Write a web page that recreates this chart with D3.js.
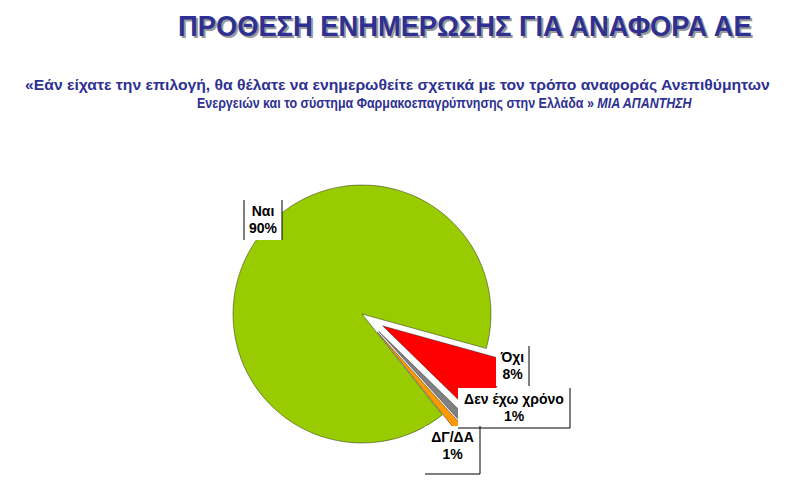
<!DOCTYPE html>
<html><head><meta charset="utf-8">
<script src="https://cdn.jsdelivr.net/npm/d3@7"></script>
<style>body{margin:0;background:#fff}</style></head>
<body><svg id="c" width="792" height="502"></svg>
<script>
const categories = ["Όχι","Δεν έχω χρόνο","ΔΓ/ΔΑ","Ναι"];
const values = [8,1,1,90];
const colors = ["#ff0000","#808080","#ff9900","#99cc00"];
const exploded = [true,true,true,false];

const svg = d3.select("#c");
const blue = "#2e3192";
const fam = "'Liberation Sans',Arial,sans-serif";

// fit text horizontally into [x, x+w] by scaling
function fitText(sel, x, y, w){
  const len = sel.node().getComputedTextLength();
  sel.attr("x",0).attr("y",0).attr("transform",`translate(${x},${y}) scale(${w/len},1)`);
  return sel;
}

[["#9a9a9a",2,2],[blue,0,0]].forEach(([c,dx,dy])=>{
  const t = svg.append("text").attr("fill",c)
    .attr("font-family",fam).attr("font-weight","bold").attr("font-size",30)
    .text("ΠΡΟΘΕΣΗ ΕΝΗΜΕΡΩΣΗΣ ΓΙΑ ΑΝΑΦΟΡΑ ΑΕ");
  fitText(t,178+dx,36+dy,574);
});
const s1 = svg.append("text").attr("fill",blue)
  .attr("font-family",fam).attr("font-weight","bold").attr("font-size",15)
  .text("«Εάν είχατε την επιλογή, θα θέλατε να ενημερωθείτε σχετικά με τον τρόπο αναφοράς Ανεπιθύμητων");
fitText(s1,25,90,745);
const l2 = svg.append("text").attr("fill",blue)
  .attr("font-family",fam).attr("font-weight","bold").attr("font-size",15);
l2.append("tspan").text("Ενεργειών και το σύστημα Φαρμακοεπαγρύπνησης στην Ελλάδα » ");
l2.append("tspan").attr("font-style","italic").text("ΜΙΑ ΑΠΑΝΤΗΣΗ");
fitText(l2,197,108,495);

// pie
const cx = 362, cy = 314, r = 129, explode = 24;
const start = 105.5*Math.PI/180;
const pie = d3.pie().sort(null).value(d=>d).startAngle(start).endAngle(start+2*Math.PI);
const arcs = pie(values);
const arc = d3.arc().innerRadius(0).outerRadius(r);
const g = svg.append("g").attr("transform",`translate(${cx},${cy})`);
arcs.forEach((a,i)=>{
  const mid = (a.startAngle+a.endAngle)/2;
  const off = exploded[i] ? explode : 0;
  const dx = Math.sin(mid)*off, dy = -Math.cos(mid)*off;
  g.append("path").attr("d",arc(a)).attr("fill",colors[i])
    .attr("stroke","#000").attr("stroke-width",0.4)
    .attr("transform",`translate(${dx},${dy})`);
});

const labels = [
  {t:["Ναι","90%"], x:244, y:200, w:38, h:40},
  {t:["Όχι","8%"], x:496, y:346, w:33, h:40},
  {t:["Δεν έχω χρόνο","1%"], x:458, y:388, w:112, h:40},
  {t:["ΔΓ/ΔΑ","1%"], x:425, y:426, w:55, h:48}
];
labels.forEach(L=>{
  svg.append("rect").attr("x",L.x).attr("y",L.y).attr("width",L.w).attr("height",L.h).attr("fill","#fff");
  svg.append("line").attr("x1",L.x+L.w).attr("x2",L.x+L.w).attr("y1",L.y).attr("y2",L.y+L.h).attr("stroke","#000");
  L.t.forEach((s,k)=>{
    svg.append("text").attr("x",L.x+L.w/2).attr("y",L.y+16+k*17).attr("text-anchor","middle")
      .attr("font-family",fam).attr("font-weight","bold").attr("font-size",14)
      .attr("fill","#000").text(s);
  });
});
svg.append("line").attr("x1",244).attr("x2",244).attr("y1",200).attr("y2",240).attr("stroke","#000");
svg.append("line").attr("x1",458).attr("x2",570).attr("y1",428).attr("y2",428).attr("stroke","#000");
svg.append("line").attr("x1",425).attr("x2",480).attr("y1",474).attr("y2",474).attr("stroke","#000");
</script></body></html>
